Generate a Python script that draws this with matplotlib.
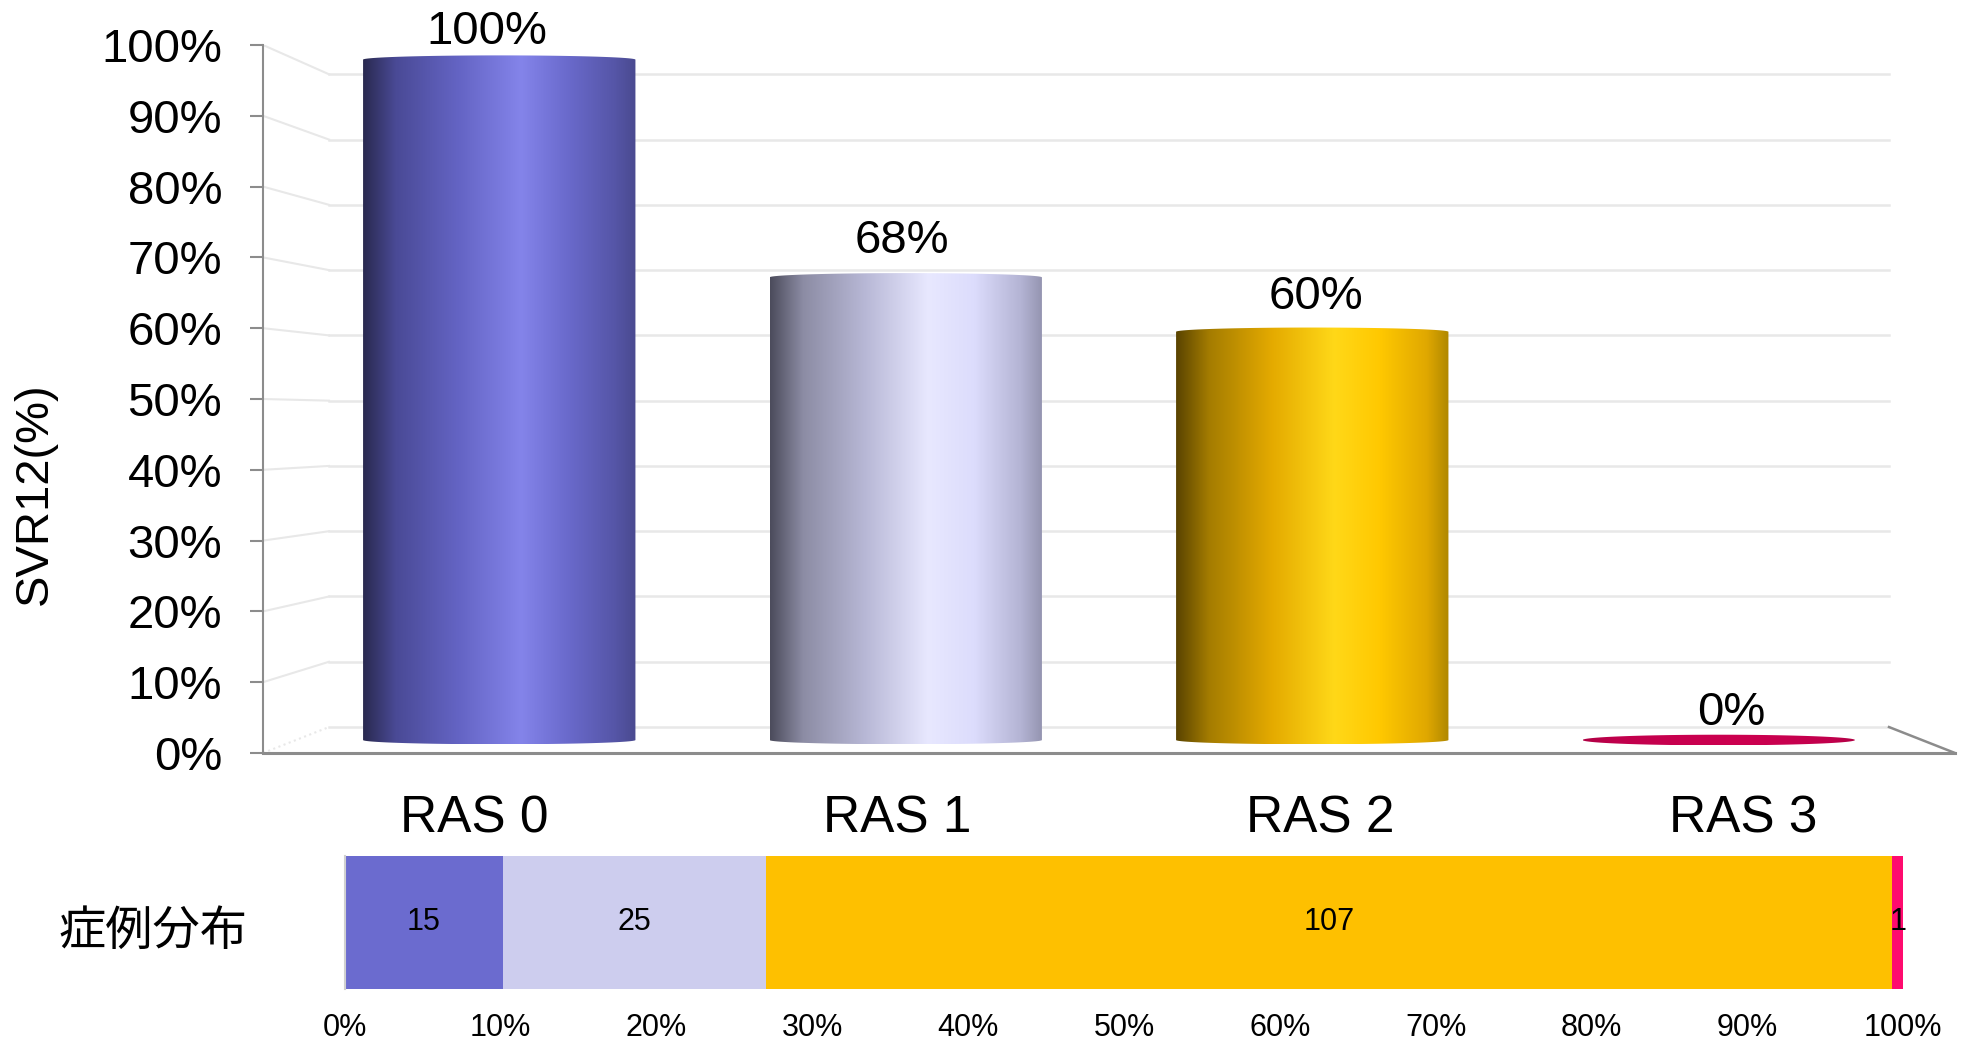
import numpy as np
import matplotlib.pyplot as plt
from matplotlib.colors import LinearSegmentedColormap
from matplotlib.patches import Polygon
from matplotlib.ticker import FuncFormatter

plt.rcParams['font.family'] = ['Liberation Sans', 'Noto Sans CJK JP', 'DejaVu Sans']

# SVR12 rate by RAS count
groups = ['RAS 0', 'RAS 1', 'RAS 2', 'RAS 3']
svr12 = [100, 68, 60, 0]
# number of cases in each group
cases = [15, 25, 107, 1]

y_ticks = list(range(0, 101, 10))
dist_ticks = np.linspace(0, 1, 11)

# cylinder shading, left edge -> highlight -> right edge
shade_pos = [0, 0.12, 0.35, 0.58, 0.75, 0.92, 1]
shades = [
    ['#2a2a50', '#4a4a96', '#6464c4', '#8484ea', '#6a6acc', '#5656a8', '#4a4a90'],
    ['#4c4c5c', '#8c8ca4', '#b8b8d6', '#e8e8ff', '#dcdcfc', '#b4b4d4', '#9494b0'],
    ['#5a4400', '#a47c00', '#e4aa00', '#ffd818', '#ffc800', '#e0a800', '#b08800'],
    ['#b00044', '#c0004c', '#c8004f', '#cc0050', '#c8004f', '#c0004c', '#b00044'],
]
flat_colors = ['#6b6bcf', '#cdcdee', '#fec000', '#ff0a6e']

AXIS_GRAY = '#8c8c8c'
GRID_GRAY = '#e8e8e8'

# fake 3d: front plane is the axes data space, depth shrinks towards VP
VP = (2.0, 47.0)
BACK = 0.922
BAR_DEPTH = 0.5
BAR_W = 0.67
ELL = 0.6


def proj(x, v, z):
    s = 1 - (1 - BACK) * z
    return VP[0] + (x - VP[0]) * s, VP[1] + (v - VP[1]) * s


fig = plt.figure(figsize=(19.66, 10.42), dpi=100)
W, H = 1966.0, 1042.0

ax = fig.add_axes([263 / W, 289 / H, 1692 / W, 708 / H])
n = len(groups)

# side wall and back wall gridlines
for v in y_ticks:
    x0, y0 = proj(0, v, 0)
    x1, y1 = proj(0, v, 1)
    x2, y2 = proj(n, v, 1)
    ax.plot([x0, x1], [y0, y1], color=GRID_GRAY, lw=1.5,
            ls=':' if v == 0 else '-', zorder=1)
    ax.plot([x1, x2], [y1, y2], color=GRID_GRAY, lw=1.8, zorder=1)

# right edge of the floor
fx0, fy0 = proj(n, 0, 0)
fx1, fy1 = proj(n, 0, 1)
ax.plot([fx0, fx1], [fy0, fy1], color=AXIS_GRAY, lw=1.8, zorder=2,
        clip_on=False)

# cylinders
s_mid = 1 - (1 - BACK) * BAR_DEPTH
t = np.linspace(0, np.pi, 80)
for i, (v, cols) in enumerate(zip(svr12, shades)):
    cx, top = proj(i + 0.5, v, BAR_DEPTH)
    _, base = proj(i + 0.5, 0, BAR_DEPTH)
    a = BAR_W / 2 * s_mid
    e = ELL if v > 0 else 0.75
    xs = np.concatenate([cx + a * np.cos(t), cx + a * np.cos(t + np.pi)])
    ys = np.concatenate([top + e * np.sin(t), base + e * np.sin(t + np.pi)])
    body = Polygon(np.column_stack([xs, ys]), closed=True, fc='none', ec='none')
    ax.add_patch(body)
    cmap = LinearSegmentedColormap.from_list('shade%d' % i, list(zip(shade_pos, cols)))
    img = ax.imshow(np.linspace(0, 1, 256)[None, :], cmap=cmap,
                    extent=[cx - a, cx + a, base - e, top + e],
                    aspect='auto', interpolation='bilinear', zorder=3)
    img.set_clip_path(body)

    # value label, kept inside the chart area
    lx, ly = proj(i + 0.5, v, 0.25)
    ax.text(lx, min(ly + 4.7, 101.8), '%d%%' % v, ha='center',
            va='center', fontsize=34, zorder=5)

ax.set_xlim(0, n)
ax.set_ylim(0, 100)
ax.set_yticks(y_ticks)
ax.yaxis.set_major_formatter(FuncFormatter(lambda v, _: '%d%%' % v))
ax.tick_params(axis='y', length=9.5, width=1.5, color=AXIS_GRAY,
               labelsize=34, pad=20)
ax.set_xticks(np.arange(n) + 0.5, groups)
ax.tick_params(axis='x', length=0, labelsize=37, pad=30)
for side in ['top', 'right']:
    ax.spines[side].set_visible(False)
ax.spines['left'].set_color(AXIS_GRAY)
ax.spines['left'].set_linewidth(1.5)
ax.spines['bottom'].set_color(AXIS_GRAY)
ax.spines['bottom'].set_linewidth(2.2)

fig.text(35 / W, 1 - 494 / H, 'SVR12(%)', rotation=90, ha='center',
         va='center', fontsize=34)

# case distribution strip
ax2 = fig.add_axes([345 / W, 53 / H, 1558 / W, 133 / H])
shares = np.array(cases) / sum(cases)
lefts = np.concatenate([[0], np.cumsum(shares)[:-1]])
ax2.barh(0, shares, left=lefts, height=1, color=flat_colors)
for l, w, c in zip(lefts, shares, cases):
    ax2.text(l + w / 2, 0, str(c), ha='center', va='center', fontsize=22)

ax2.set_xlim(0, 1)
ax2.set_ylim(-0.5, 0.5)
ax2.set_xticks(dist_ticks)
ax2.xaxis.set_major_formatter(FuncFormatter(lambda v, _: '%d%%' % round(v * 100)))
ax2.set_yticks([-0.04], ['症例分布'])
ax2.tick_params(axis='x', length=0, labelsize=22, pad=17)
ax2.tick_params(axis='y', length=0, labelsize=34, pad=70)
for side in ['top', 'right', 'bottom']:
    ax2.spines[side].set_visible(False)
ax2.spines['left'].set_color('#d0d0d0')
ax2.spines['left'].set_linewidth(1.5)

fig.savefig('out.png', dpi=100)
